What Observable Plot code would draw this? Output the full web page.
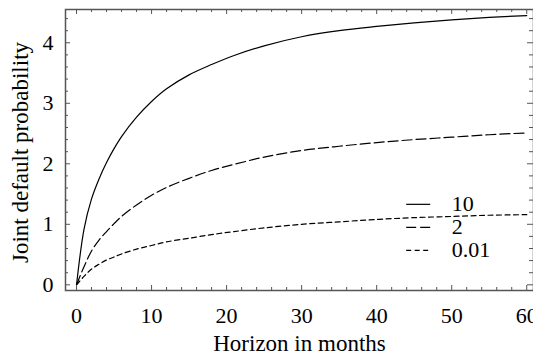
<!DOCTYPE html>
<html><head><meta charset="utf-8">
<script src="https://cdn.jsdelivr.net/npm/d3@7"></script>
<script src="https://cdn.jsdelivr.net/npm/@observablehq/plot@0.6"></script>
<style>html,body{margin:0;padding:0;background:#fff;overflow:hidden}</style>
</head><body><div id="chart"></div>
<script>
// ---- data ----
const months = [0, 1, 2, 3, 4, 5, 6, 8, 10, 12, 15, 18, 21, 25, 30, 35, 40, 45, 50, 55, 60];
const prob10 = [0, 0.92, 1.42, 1.75, 2.02, 2.25, 2.45, 2.77, 3.03, 3.24, 3.47, 3.64, 3.79, 3.95, 4.10, 4.20, 4.27, 4.33, 4.38, 4.42, 4.45];
const prob2 = [0, 0.30, 0.56, 0.74, 0.88, 1.01, 1.13, 1.32, 1.48, 1.61, 1.76, 1.89, 1.99, 2.11, 2.22, 2.29, 2.35, 2.40, 2.44, 2.48, 2.51];
const prob001 = [0, 0.14, 0.26, 0.34, 0.41, 0.46, 0.51, 0.59, 0.65, 0.71, 0.77, 0.83, 0.88, 0.94, 1.00, 1.04, 1.08, 1.11, 1.13, 1.15, 1.16];
const seriesLabels = ["10", "2", "0.01"];
const xTickLabels = [0, 10, 20, 30, 40, 50, 60];
const yTickLabels = [0, 1, 2, 3, 4];
const xLabel = "Horizon in months";
const yLabel = "Joint default probability";

// ---- layout ----
const W = 533, H = 357;
const mL = 65, mR = 0, mT = 9, mB = 67;
const fw = W - mL - mR, fh = H - mT - mB;
const font = "'Liberation Serif', 'Times New Roman', serif";
const tickFont = 22, titleFont = 23;
const axisColor = "#555";
const dashes = [null, "10,4", "5,3.5"];

const seriesData = [prob10, prob2, prob001].map((vals, i) =>
  months.map((m, j) => ({x: m, y: vals[j], s: seriesLabels[i]})));

const xMinor = d3.range(0, 61, 2).filter(v => v % 10 !== 0);
const yMinor = d3.range(0, 45).map(v => v / 5).filter(v => v <= 4.45 && Math.abs(v - Math.round(v)) > 1e-6);

const legendLayout = {x1: 44, x2: 47.2, xText: 50, ys: [1.33, 0.95, 0.57]};
const legendRows = seriesLabels.map((s, i) => ({s, y: legendLayout.ys[i], dash: dashes[i]}));

const marks = [];
// curves
seriesData.forEach((d, i) => {
  marks.push(Plot.line(d, {x: "x", y: "y", stroke: "black", strokeWidth: 1.2, strokeDasharray: dashes[i], curve: "catmull-rom"}));
});
// ticks (inward, all four sides)
[[xTickLabels, 5], [xMinor, 3]].forEach(([arr, len]) => {
  marks.push(Plot.tickX(arr, {x: d => d, insetTop: fh - len, stroke: axisColor, strokeWidth: 1}));
  marks.push(Plot.tickX(arr, {x: d => d, insetBottom: fh - len, stroke: axisColor, strokeWidth: 1}));
});
[[yTickLabels, 5], [yMinor, 3]].forEach(([arr, len]) => {
  marks.push(Plot.tickY(arr, {y: d => d, insetRight: fw - len, stroke: axisColor, strokeWidth: 1}));
  marks.push(Plot.tickY(arr, {y: d => d, insetLeft: fw - len - 1, stroke: axisColor, strokeWidth: 1}));
});
marks.push(Plot.frame({stroke: axisColor, strokeWidth: 1.5}));
// tick labels
marks.push(Plot.text(xTickLabels, {x: d => d, frameAnchor: "bottom", dy: 25, text: d => String(d), fontSize: tickFont, fontFamily: font, textAnchor: "middle", lineAnchor: "middle"}));
marks.push(Plot.text(yTickLabels, {y: d => d, frameAnchor: "left", dx: -12, text: d => String(d), fontSize: tickFont, fontFamily: font, textAnchor: "end", lineAnchor: "middle"}));
// axis titles
marks.push(Plot.text([xLabel], {frameAnchor: "bottom", dy: 53, text: d => d, fontSize: titleFont, fontFamily: font, textAnchor: "middle", lineAnchor: "middle"}));
marks.push(Plot.text([yLabel], {frameAnchor: "left", dx: -45, dy: 2.5, rotate: -90, text: d => d, fontSize: titleFont, fontFamily: font, textAnchor: "middle", lineAnchor: "middle"}));
// legend
legendRows.forEach(r => {
  marks.push(Plot.ruleY([r], {y: "y", x1: legendLayout.x1, x2: legendLayout.x2, stroke: "black", strokeWidth: 1.2, strokeDasharray: r.dash}));
});
marks.push(Plot.text(legendRows, {x: legendLayout.xText, y: "y", text: "s", textAnchor: "start", fontSize: tickFont, fontFamily: font, lineAnchor: "middle"}));

const chart = Plot.plot({
  width: W, height: H,
  marginLeft: mL, marginRight: mR, marginTop: mT, marginBottom: mB,
  x: {domain: [-1.47, 60.9], axis: null},
  y: {domain: [-0.094, 4.55], axis: null},
  style: {background: "white", fontFamily: font, overflow: "hidden"},
  marks
});
document.getElementById("chart").appendChild(chart);
</script>
</body></html>
